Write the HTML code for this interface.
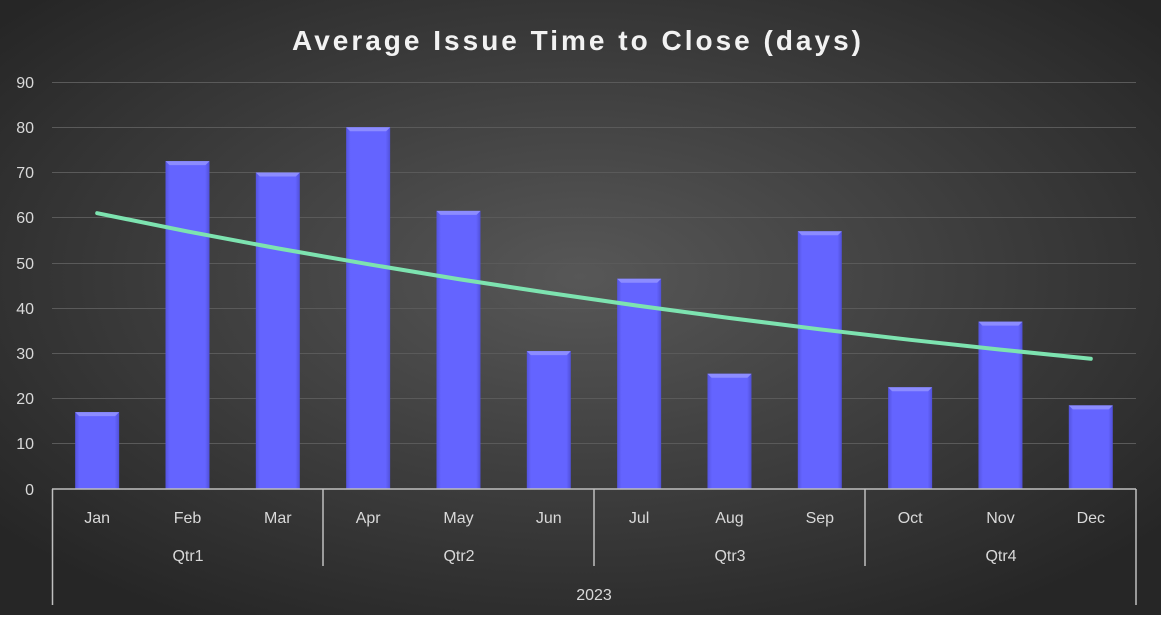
<!DOCTYPE html>
<html><head><meta charset="utf-8"><style>
html,body{margin:0;padding:0;width:1161px;height:620px;overflow:hidden;background:#fff}
</style></head><body>
<svg width="1161" height="620" xmlns="http://www.w3.org/2000/svg" font-family="Liberation Sans, sans-serif">
<defs>
<radialGradient id="bg" cx="50%" cy="45%" r="65%">
<stop offset="0" stop-color="#575757"/><stop offset="1" stop-color="#262626"/>
</radialGradient>
<linearGradient id="bar" x1="0" x2="1" y1="0" y2="0">
<stop offset="0" stop-color="#5454e0"/><stop offset="0.1" stop-color="#6464ff"/><stop offset="0.9" stop-color="#6464ff"/><stop offset="1" stop-color="#5050d8"/>
</linearGradient>
</defs>
<rect x="0" y="0" width="1161" height="615" fill="url(#bg)"/>
<text x="578" y="50" text-anchor="middle" fill="#f2f2f2" font-size="28" font-weight="bold" letter-spacing="3">Average Issue Time to Close (days)</text>
<g stroke="#5a5a5a" stroke-width="1">
<line x1="52" x2="1136" y1="82.5" y2="82.5"/><line x1="52" x2="1136" y1="127.5" y2="127.5"/>
<line x1="52" x2="1136" y1="172.5" y2="172.5"/><line x1="52" x2="1136" y1="217.5" y2="217.5"/>
<line x1="52" x2="1136" y1="263.5" y2="263.5"/><line x1="52" x2="1136" y1="308.5" y2="308.5"/>
<line x1="52" x2="1136" y1="353.5" y2="353.5"/><line x1="52" x2="1136" y1="398.5" y2="398.5"/>
<line x1="52" x2="1136" y1="443.5" y2="443.5"/>
</g>
<g fill="#d9d9d9" font-size="16" text-anchor="end">
<text x="34" y="88">90</text><text x="34" y="133">80</text><text x="34" y="178">70</text><text x="34" y="223">60</text>
<text x="34" y="269">50</text><text x="34" y="314">40</text><text x="34" y="359">30</text><text x="34" y="404">20</text>
<text x="34" y="449">10</text><text x="34" y="495">0</text>
</g>
<g id="bars"></g>
<script>
var v=[17,72.5,70,80,61.5,30.5,46.5,25.5,57,22.5,37,18.5];var s=4.522;var g=document.getElementById('bars');var ns='http://www.w3.org/2000/svg';
var names=['Jan','Feb','Mar','Apr','May','Jun','Jul','Aug','Sep','Oct','Nov','Dec'];
var pts=[];
for(var i=0;i<12;i++){var cx=52+90.33*(i+0.5);var h=v[i]*s;var y=489-h;
var r=document.createElementNS(ns,'rect');r.setAttribute('x',cx-22);r.setAttribute('y',y);r.setAttribute('width',44);r.setAttribute('height',h);r.setAttribute('fill','url(#bar)');g.appendChild(r);
var p=document.createElementNS(ns,'polygon');p.setAttribute('points',(cx-22)+','+y+' '+(cx+22)+','+y+' '+(cx+18)+','+(y+4)+' '+(cx-18)+','+(y+4));p.setAttribute('fill','#8c8cff');g.appendChild(p);
var t=document.createElementNS(ns,'text');t.setAttribute('x',cx);t.setAttribute('y',523);t.setAttribute('text-anchor','middle');t.setAttribute('fill','#d9d9d9');t.setAttribute('font-size','16');t.textContent=names[i];g.appendChild(t);
var tv=61*Math.pow(0.934,i);pts.push(cx.toFixed(1)+','+(489-tv*s).toFixed(1));}
var pl=document.createElementNS(ns,'polyline');pl.setAttribute('points',pts.join(' '));pl.setAttribute('fill','none');pl.setAttribute('stroke','#7de3b0');pl.setAttribute('stroke-width','4');pl.setAttribute('stroke-linecap','round');pl.setAttribute('stroke-linejoin','round');g.appendChild(pl);
</script>
<g stroke="#bfbfbf" stroke-width="1.5">
<line x1="52" x2="1136" y1="489" y2="489"/>
<line x1="52.5" x2="52.5" y1="489" y2="605"/><line x1="1136" x2="1136" y1="489" y2="605"/>
<line x1="323" x2="323" y1="489" y2="566"/><line x1="594" x2="594" y1="489" y2="566"/><line x1="865" x2="865" y1="489" y2="566"/>
</g>
<g fill="#d9d9d9" font-size="16" text-anchor="middle">
<text x="188" y="561">Qtr1</text><text x="459" y="561">Qtr2</text><text x="730" y="561">Qtr3</text><text x="1001" y="561">Qtr4</text>
<text x="594" y="600">2023</text>
</g>
</svg>
</body></html>
